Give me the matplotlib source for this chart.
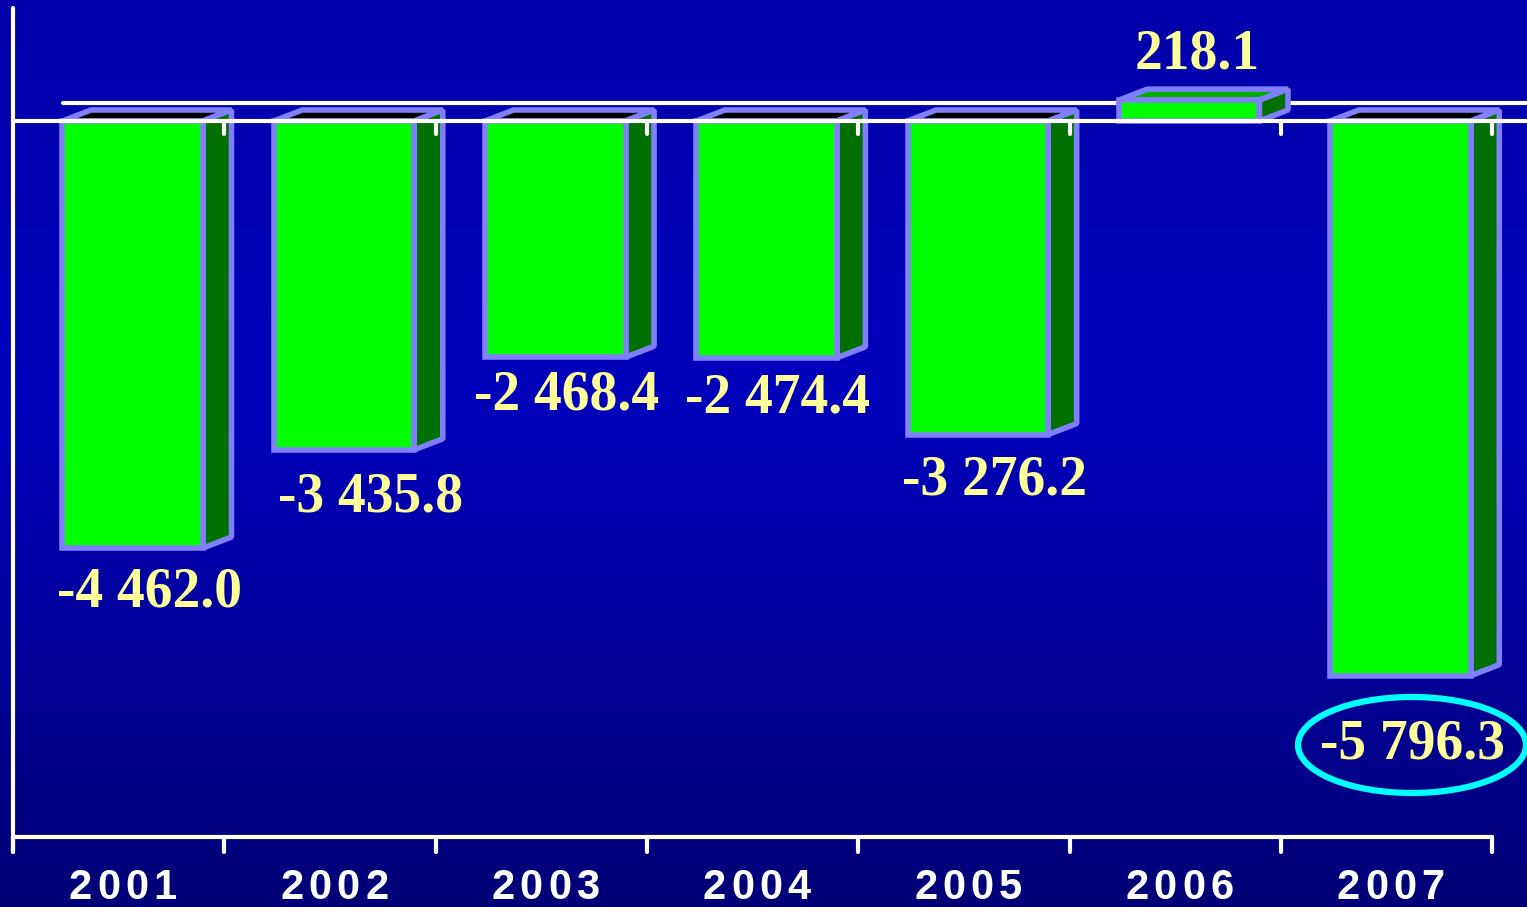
import numpy as np
import matplotlib.pyplot as plt
from matplotlib.patches import Polygon, Ellipse

# datos
anios = ['2001', '2002', '2003', '2004', '2005', '2006', '2007']
valores = [-4462.0, -3435.8, -2468.4, -2474.4, -3276.2, 218.1, -5796.3]
etiquetas = ['-4 462.0', '-3 435.8', '-2 468.4', '-2 474.4', '-3 276.2', '218.1', '-5 796.3']

# escala: pixeles -> unidades
K = 0.0957          # px por unidad
Y0 = 121            # px de la linea cero
CAT = 211.3         # px por categoria
X0 = 13             # px del eje vertical

def vy(py):
    return (Y0 - py) / K

def vx(px):
    return (px - X0) / CAT - 0.5

fig = plt.figure(figsize=(15.27, 9.07), dpi=100)
ax = fig.add_axes([0, 0, 1, 1])
ax.set_xlim(vx(0), vx(1527))
ax.set_ylim(vy(907), vy(0))
ax.axis('off')

# fondo degradado
t = np.linspace(0, 1, 256)
azul = np.interp(t, [0, 0.45, 1], [170, 188, 118]) / 255.0
grad = np.zeros((256, 1, 3))
grad[:, 0, 2] = azul
ax.imshow(grad, aspect='auto', extent=[vx(0), vx(1527), vy(907), vy(0)], zorder=0)

blanco = 'white'
lw_eje = 3.0

# linea de fondo (pared)
ax.plot([vx(63), vx(1527)], [vy(103), vy(103)], color=blanco, lw=lw_eje,
        solid_capstyle='round', zorder=1)

# barras 3D
izq, der = -0.266, 0.399
dx, dy = 0.135, 115
borde = '#8080FF'
for i, v in enumerate(valores):
    x0, x1 = i + izq, i + der
    tope = max(v, 0)
    fondo = min(v, 0)
    cara_sup = '#00B000' if v > 0 else 'black'
    sup = Polygon([(x0, tope), (x0 + dx, tope + dy), (x1 + dx, tope + dy), (x1, tope)],
                  closed=True, facecolor=cara_sup, edgecolor=borde, lw=4,
                  joinstyle='bevel', zorder=2)
    lado = Polygon([(x1, tope), (x1 + dx, tope + dy), (x1 + dx, fondo + dy), (x1, fondo)],
                   closed=True, facecolor='#007000', edgecolor=borde, lw=4,
                   joinstyle='bevel', zorder=2)
    frente = Polygon([(x0, fondo), (x0, tope), (x1, tope), (x1, fondo)],
                     closed=True, facecolor='#00FF00', edgecolor=borde, lw=4,
                     joinstyle='miter', zorder=3)
    for p in (sup, lado, frente):
        ax.add_patch(p)

# ejes
ax.plot([vx(X0), vx(X0)], [vy(8), vy(852)], color=blanco, lw=lw_eje,
        solid_capstyle='round', zorder=5)
ax.plot([vx(X0), vx(1492)], [vy(837), vy(837)], color=blanco, lw=lw_eje,
        solid_capstyle='round', zorder=5)
ax.plot([vx(X0), vx(1527)], [0, 0], color=blanco, lw=lw_eje,
        solid_capstyle='round', zorder=5)
for k in range(len(anios) + 1):
    xb = k - 0.5
    ax.plot([xb, xb], [vy(837), vy(852)], color=blanco, lw=lw_eje,
            solid_capstyle='round', zorder=5)
    if k > 0:
        ax.plot([xb, xb], [0, vy(134)], color=blanco, lw=lw_eje,
                solid_capstyle='round', zorder=5)

# etiquetas de anios (con espaciado entre letras)
paso = 28.3 / CAT
for i, a in enumerate(anios):
    for j, c in enumerate(a):
        ax.text(i + 0.02 + (j - 1.5) * paso, vy(899), c, color=blanco, fontsize=30,
                fontweight='bold', family='Liberation Sans', ha='center',
                va='baseline', zorder=6)

# etiquetas de valores
sep_y = [465, 500, 400, 425, 480, 480, 724]
sep_x = [0.148, 0.19, 0.122, 0.12, 0.147, 0.103, 0.121]
for i, (v, e) in enumerate(zip(valores, etiquetas)):
    yv = v + sep_y[i] if v > 0 else v - sep_y[i]
    ax.text(i + sep_x[i], yv, e, color='#FFFF99', fontsize=40, fontweight='bold',
            family='Liberation Serif', ha='center', va='center', zorder=6)

# elipse de resalte 2007
ax.add_patch(Ellipse((6 + 0.121, valores[6] - sep_y[6]), 228 / CAT, 96 / K,
                     fill=False, edgecolor='#00FFFF', lw=4.5, zorder=7))

fig.savefig('out.png', dpi=100)
